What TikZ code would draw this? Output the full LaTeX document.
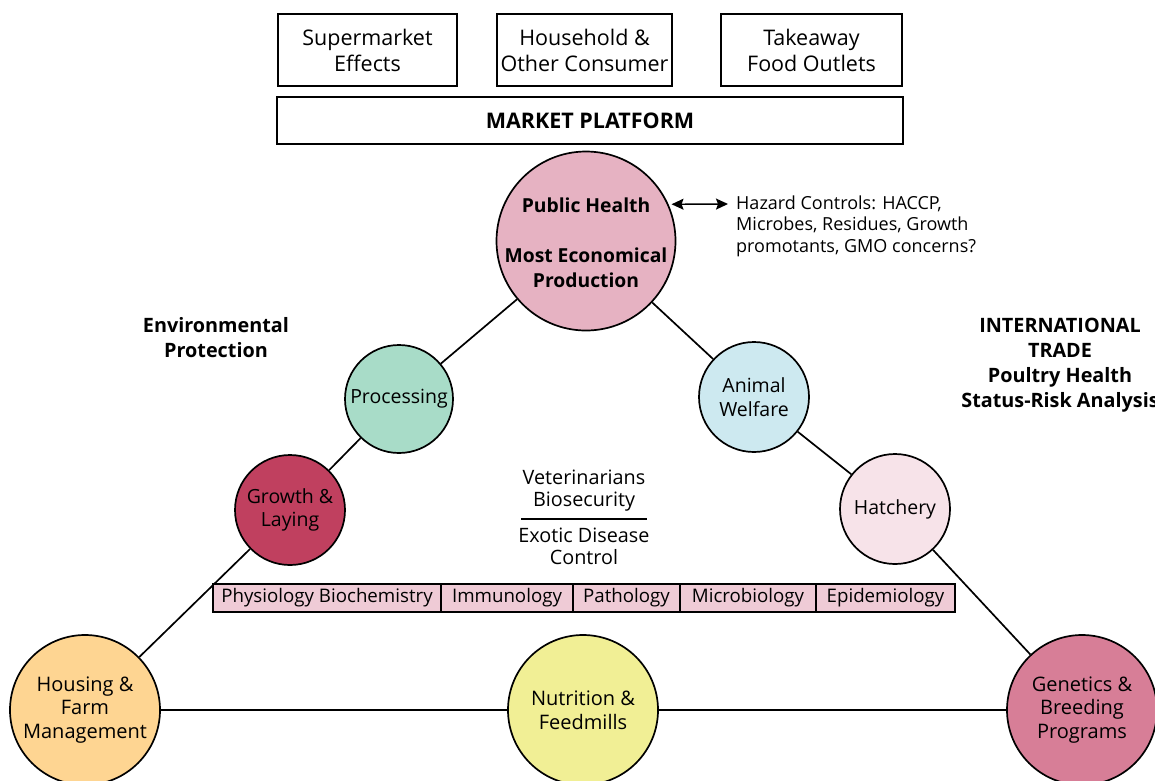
\documentclass[tikz,border=0pt]{standalone}
\usepackage{fontspec}
\setmainfont{Open Sans}
\usetikzlibrary{arrows.meta}
\definecolor{phc}{HTML}{E6B2C2}
\definecolor{procc}{HTML}{A8DCC8}
\definecolor{growc}{HTML}{C0405F}
\definecolor{awc}{HTML}{CDE9F0}
\definecolor{hatc}{HTML}{F7E3E9}
\definecolor{housc}{HTML}{FED592}
\definecolor{nutc}{HTML}{F1EF95}
\definecolor{genc}{HTML}{D77E97}
\definecolor{barc}{HTML}{EFCBD6}
\begin{document}
\begin{tikzpicture}[x=1pt,y=-1pt,
  every node/.style={font=\fontsize{19.5}{23.5}\selectfont, inner sep=0pt},
  topbox/.style={draw, line width=1.7pt, minimum height=72pt, align=center, font=\fontsize{21.5}{26}\selectfont},
  circ/.style={circle, draw, line width=1.7pt, align=center},
  bigcirc/.style={circ, minimum size=150pt, font=\fontsize{20}{23.5}\selectfont},
  cell/.style={draw, line width=1.4pt, fill=barc, minimum height=28pt, font=\fontsize{18.7}{22}\selectfont},
  link/.style={line width=1.7pt},
  bold/.style={font=\fontsize{19.8}{25}\selectfont\bfseries, align=center},
  hzarrow/.style={line width=1.4pt, {Stealth[length=12pt,width=11pt,inset=2pt]}-{Stealth[length=12pt,width=11pt,inset=2pt]}}
]
\useasboundingbox (0,0) rectangle (1155,780);
% top boxes
\node[topbox, minimum width=179pt] (sup) at (367.5,50) {Supermarket\\Effects};
\node[topbox, minimum width=175pt] (hou) at (584.5,50) {Household \&\\Other Consumer};
\node[topbox, minimum width=181pt] (tak) at (811.5,50) {Takeaway\\Food Outlets};
\node[draw, line width=1.7pt, minimum width=626pt, minimum height=47pt, font=\fontsize{21.5}{26}\selectfont\bfseries] (mkt) at (590,120.5) {MARKET PLATFORM};
% circles
\node[circ, fill=phc, minimum size=179pt,
  label={[font=\fontsize{19.3}{25}\selectfont\bfseries, align=center, yshift=-2pt]center:Public Health\\[25pt]Most Economical\\Production}] (ph) at (586,241) {};
\node[circ, fill=procc, minimum size=108pt] (proc) at (399,399) {Processing};
\node[circ, fill=growc, minimum size=110pt] (grow) at (290,510) {Growth \&\\Laying};
\node[circ, fill=awc, minimum size=110pt] (aw) at (754,397) {Animal\\Welfare};
\node[circ, fill=hatc, minimum size=110pt] (hat) at (895,509) {Hatchery};
\node[bigcirc, fill=housc] (hous) at (85,710) {Housing \&\\Farm\\Management};
\node[bigcirc, fill=nutc] (nut) at (583,710) {Nutrition \&\\Feedmills};
\node[bigcirc, fill=genc] (gen) at (1082,710) {Genetics \&\\Breeding\\Programs};
% connectors
\draw[link] (ph) -- (proc);
\draw[link] (proc) -- (grow);
\draw[link] (grow) -- (hous);
\draw[link] (hous) -- (nut);
\draw[link] (nut) -- (gen);
\draw[link] (gen) -- (hat);
\draw[link] (hat) -- (aw);
\draw[link] (aw) -- (ph);
% hazard
\node[anchor=west, align=left, font=\fontsize{18}{21.5}\selectfont] (haz) at (736,226) {Hazard Controls: HACCP,\\Microbes, Residues, Growth\\promotants, GMO concerns?};
\coordinate (hazw) at (728,204);
\draw[hzarrow] ([xshift=3pt]ph.24) -- (hazw);
% side labels
\node[bold] (env) at (216,337.5) {Environmental\\Protection};
\node[bold] (trade) at (1060,365) {INTERNATIONAL\\TRADE\\Poultry Health\\Status-Risk Analysis};
% vet
\node[align=center, font=\fontsize{19.8}{22}\selectfont] (vet) at (584,491) {Veterinarians\\Biosecurity};
\node[align=center, font=\fontsize{19.8}{22}\selectfont] (exo) at (584,546) {Exotic Disease\\Control};
\draw[line width=1.4pt] (521,519) -- (647,519);
% bar
\node[cell, minimum width=228pt] (c1) at (327,598) {Physiology Biochemistry};
\node[cell, minimum width=132pt] (c2) at (507,598) {Immunology};
\node[cell, minimum width=107pt] (c3) at (626.5,598) {Pathology};
\node[cell, minimum width=136pt] (c4) at (748,598) {Microbiology};
\node[cell, minimum width=139pt] (c5) at (885.5,598) {Epidemiology};
\end{tikzpicture}
\end{document}
